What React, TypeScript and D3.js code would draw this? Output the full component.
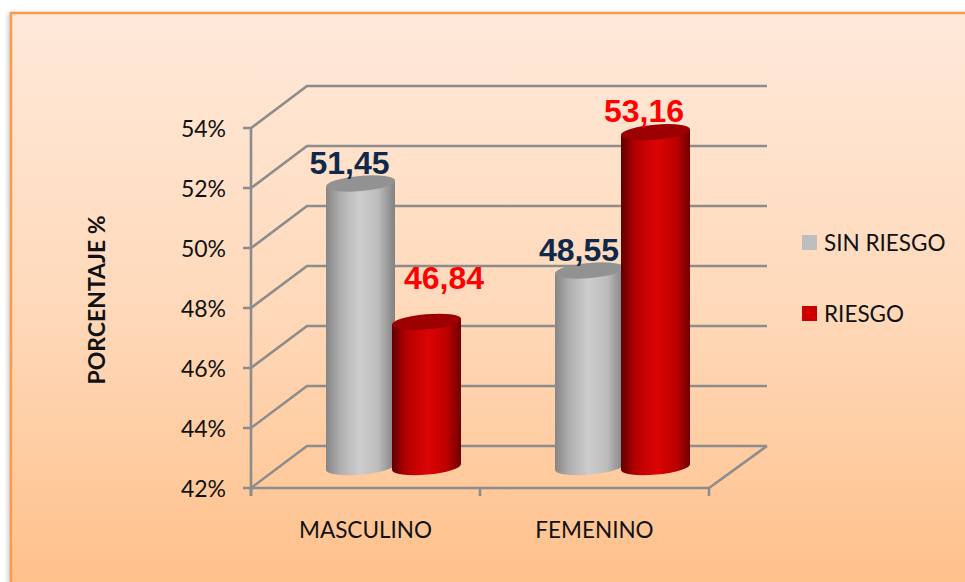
import React from "react";
import * as d3 from "d3";

const categories = ["MASCULINO", "FEMENINO"];
const seriesNames = ["SIN RIESGO", "RIESGO"];
const sinRiesgo = [51.45, 48.55];
const riesgo = [46.84, 53.16];
const valueLabels = [["51,45", "48,55"], ["46,84", "53,16"]];
const yTicks = [42, 44, 46, 48, 50, 52, 54];

const W = 965, H = 582;
const y = d3.scaleLinear().domain([42, 54]).range([488, 128]);
const x0 = d3.scaleBand<string>().domain(categories).range([251, 709]);
const dx = 56, dy = 42;
const rx = 34.5, ry = 7.6, tilt = 3;
const sans = "Lato, 'Open Sans', sans-serif";
const AXIS = "#8c8c8c";
const AXIS_W = 2.6;

function Cyl({ cx, v, grad, top }: { cx: number; v: number; grad: string; top: string }) {
  const yt = y(v) - dy / 2;
  const yb = y(42) - dy / 2;
  const d = `M${cx - rx},${yt + tilt} L${cx - rx},${yb + tilt} A${rx},${ry} -5 0 0 ${cx + rx},${yb - tilt} L${cx + rx},${yt - tilt} Z`;
  return (
    <g>
      <path d={d} fill={`url(#${grad})`} />
      <ellipse cx={cx} cy={yt} rx={rx + 0.2} ry={ry} fill={top} transform={`rotate(-5 ${cx} ${yt})`} />
    </g>
  );
}

export default function App() {
  const series = [sinRiesgo, riesgo];
  const grads = ["gGray", "gRed"];
  const tops = ["#929292", "#9c0000"];
  const labelColors = ["#10294a", "#ff0000"];
  const band = x0.bandwidth();
  const barOffset = [-32.5, 33.5];
  const labelDx = [[-43.5, -43], [51, 22]];
  const labelDy = [[-30.5, -30.5], [-54, -31]];
  return (
    <svg width={W} height={H} style={{ position: "absolute", left: 0, top: 0 }} fontFamily={sans}>
      <defs>
        <linearGradient id="bg" x1="0" y1="0" x2="0" y2="1">
          <stop offset="0" stopColor="#FFE9DA" />
          <stop offset="0.5" stopColor="#FFD9BA" />
          <stop offset="1" stopColor="#FFBF88" />
        </linearGradient>
        <linearGradient id="gGray" x1="0" y1="0" x2="1" y2="0">
          <stop offset="0" stopColor="#858585" />
          <stop offset="0.2" stopColor="#aeaeae" />
          <stop offset="0.48" stopColor="#cdcdcd" />
          <stop offset="0.75" stopColor="#bdbdbd" />
          <stop offset="1" stopColor="#818181" />
        </linearGradient>
        <linearGradient id="gRed" x1="0" y1="0" x2="1" y2="0">
          <stop offset="0" stopColor="#5e0000" />
          <stop offset="0.2" stopColor="#b40000" />
          <stop offset="0.52" stopColor="#dc0404" />
          <stop offset="0.8" stopColor="#bb0000" />
          <stop offset="1" stopColor="#700000" />
        </linearGradient>
        <filter id="sh" x="-2%" y="-2%" width="104%" height="104%">
          <feGaussianBlur stdDeviation="2" />
        </filter>
      </defs>
      <rect x={8} y={13} width={970} height={590} fill="#999" opacity={0.5} filter="url(#sh)" />
      <rect x={11} y={13} width={970} height={590} fill="url(#bg)" stroke="#FB9A4B" strokeWidth={2.5} />

      {yTicks.map((t) => (
        <g key={t}>
          <polyline
            points={`243,${y(t)} 251,${y(t)} ${251 + dx},${y(t) - dy} ${709 + dx + 2},${y(t) - dy}`}
            fill="none" stroke={AXIS} strokeWidth={AXIS_W}
          />
          <text x={226} y={y(t) + 1} dy="0.36em" textAnchor="end" fontSize={23} fill="#111">{t}%</text>
        </g>
      ))}
      <line x1={251} x2={251} y1={y(54)} y2={496} stroke={AXIS} strokeWidth={AXIS_W} />
      <line x1={251} x2={709} y1={y(42)} y2={y(42)} stroke={AXIS} strokeWidth={AXIS_W} />
      <line x1={709} x2={709 + dx + 2} y1={y(42)} y2={y(42) - dy} stroke={AXIS} strokeWidth={AXIS_W} />
      {[251, 480, 709].map((tx) => (
        <line key={tx} x1={tx} x2={tx} y1={488} y2={496} stroke={AXIS} strokeWidth={AXIS_W} />
      ))}

      {categories.map((c, i) => {
        const center = x0(c)! + band / 2 + dx / 2 - 0.5;
        return (
          <g key={c}>
            {series.map((s, k) => (
              <Cyl key={k} cx={center + barOffset[k]} v={s[i]} grad={grads[k]} top={tops[k]} />
            ))}
          </g>
        );
      })}

      {categories.map((c, i) => {
        const center = x0(c)! + band / 2 + dx / 2 - 0.5;
        return series.map((s, k) => (
          <text key={c + k}
            x={center + labelDx[k][i]}
            y={y(s[i]) + labelDy[k][i]}
            textAnchor="middle" fontFamily="'Liberation Sans', Arial, sans-serif" fontWeight={700}
            fontSize={32} fill={labelColors[k]}>
            {valueLabels[k][i]}
          </text>
        ));
      })}

      {categories.map((c) => (
        <text key={c} x={x0(c)! + band / 2} y={530} dy="0.36em" textAnchor="middle" fontSize={22.5} fill="#111">{c}</text>
      ))}

      <text transform="translate(97,300) rotate(-90)" textAnchor="middle" dy="0.36em" fontSize={23} fontWeight={700} fill="#111">PORCENTAJE %</text>

      {seriesNames.map((n, k) => (
        <g key={n}>
          <rect x={802} y={235 + k * 71} width={15} height={15} fill={k === 0 ? "#BEBEBE" : "#CC0000"} />
          <text x={824} y={242.5 + k * 71} dy="0.36em" fontSize={22.5} fill="#111">{n}</text>
        </g>
      ))}
    </svg>
  );
}
